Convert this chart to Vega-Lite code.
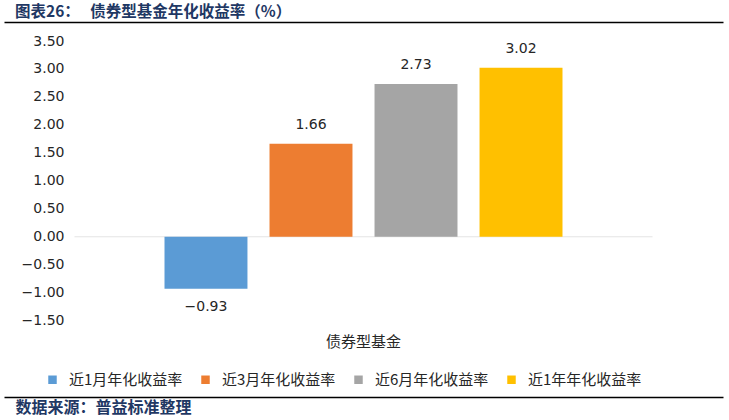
{
  "$schema": "https://vega.github.io/schema/vega-lite/v6.json",
  "width": 719,
  "height": 375,
  "autosize": {"type": "none"},
  "padding": {"left": 4, "top": 22, "right": 6, "bottom": 23},
  "background": "white",
  "config": {
    "view": {"stroke": null},
    "font": "Noto Sans CJK SC",
    "axis": {"labelOverlap": false},
    "axisY": {"labelOverlap": false},
    "axisQuantitative": {"labelOverlap": false}
  },
  "title": {
    "text": "图表26：\u00a0\u00a0\u00a0债券型基金年化收益率（%）",
    "anchor": "start",
    "frame": "group",
    "dx": 11,
    "dy": 2,
    "offset": 4,
    "fontSize": 15.5,
    "fontWeight": "bold",
    "color": "#1F3864",
    "font": "Noto Sans CJK SC"
  },
  "data": {
    "values": [
      {"category": "债券型基金", "series": "近1月年化收益率", "value": -0.93},
      {"category": "债券型基金", "series": "近3月年化收益率", "value": 1.66},
      {"category": "债券型基金", "series": "近6月年化收益率", "value": 2.73},
      {"category": "债券型基金", "series": "近1年年化收益率", "value": 3.02}
    ]
  },
  "resolve": {"axis": {"x": "independent"}},
  "layer": [
    {
      "data": {"values": [{"category": "债券型基金"}]},
      "mark": {"type": "tick", "size": 578, "thickness": 1, "color": "#D9D9D9"},
      "encoding": {
        "x": {
          "field": "category",
          "type": "nominal",
          "scale": {"paddingInner": 0, "paddingOuter": 0.4033},
          "axis": {"orient": "top", "labels": false, "ticks": false, "domain": true, "domainColor": "#000000", "domainWidth": 1.5, "title": null}
        },
        "y": {
          "datum": 0,
          "type": "quantitative",
          "scale": {"domain": [-2.868, 3.84], "nice": false, "zero": false},
          "axis": {
            "values": [-1.5, -1, -0.5, 0, 0.5, 1, 1.5, 2, 2.5, 3, 3.5],
            "format": ".2f",
            "orient": "left",
            "offset": -62,
            "domain": false,
            "ticks": false,
            "grid": false,
            "labelOverlap": false,
            "labelPadding": 2,
            "labelFont": "DejaVu Sans",
            "labelFontSize": 14,
            "labelColor": "#262626",
            "title": null
          }
        }
      }
    },
    {
      "mark": {"type": "bar"},
      "encoding": {
        "x": {
          "field": "category",
          "type": "nominal",
          "axis": {
            "orient": "bottom",
            "domain": true,
            "domainColor": "#000000",
            "domainWidth": 1.5,
            "ticks": false,
            "labelAngle": 0,
            "labelPadding": -56,
            "labelBaseline": "middle",
            "labelFontSize": 15,
            "labelColor": "#262626",
            "labelFont": "Noto Sans CJK SC",
            "title": "数据来源：普益标准整理",
            "titleX": 11,
            "titleY": 10,
            "titleAlign": "left",
            "titleBaseline": "middle",
            "titleFontSize": 16,
            "titleFontWeight": "bold",
            "titleColor": "#1F3864",
            "titleFont": "Noto Sans CJK SC"
          }
        },
        "xOffset": {
          "field": "series",
          "type": "nominal",
          "scale": {"domain": ["近1月年化收益率", "近3月年化收益率", "近6月年化收益率", "近1年年化收益率"], "paddingInner": 0.21, "paddingOuter": 0}
        },
        "y": {
          "field": "value",
          "type": "quantitative",
          "axis": {
            "values": [-1.5, -1, -0.5, 0, 0.5, 1, 1.5, 2, 2.5, 3, 3.5],
            "format": ".2f",
            "orient": "left",
            "offset": -62,
            "domain": false,
            "ticks": false,
            "grid": false,
            "labelOverlap": false,
            "labelPadding": 2,
            "labelFont": "DejaVu Sans",
            "labelFontSize": 14,
            "labelColor": "#262626",
            "title": null
          }
        },
        "color": {
          "field": "series",
          "type": "nominal",
          "scale": {
            "domain": ["近1月年化收益率", "近3月年化收益率", "近6月年化收益率", "近1年年化收益率"],
            "range": ["#5B9BD5", "#ED7D31", "#A5A5A5", "#FFC000"]
          },
          "legend": {
            "orient": "none",
            "direction": "horizontal",
            "legendX": 41,
            "legendY": 350,
            "title": null,
            "symbolType": "square",
            "symbolSize": 72,
            "symbolStrokeWidth": 0,
            "labelFontSize": 15,
            "labelFont": "Noto Sans CJK SC",
            "labelColor": "#262626",
            "labelOffset": 9,
            "columnPadding": 15,
            "padding": 0
          }
        }
      }
    },
    {
      "transform": [{"filter": "datum.value >= 0"}],
      "mark": {"type": "text", "baseline": "bottom", "dy": -12, "font": "DejaVu Sans", "fontSize": 14, "color": "#262626"},
      "encoding": {
        "x": {"field": "category", "type": "nominal", "axis": null},
        "xOffset": {"field": "series", "type": "nominal"},
        "y": {
          "field": "value",
          "type": "quantitative",
          "axis": {
            "values": [-1.5, -1, -0.5, 0, 0.5, 1, 1.5, 2, 2.5, 3, 3.5],
            "format": ".2f",
            "orient": "left",
            "offset": -62,
            "domain": false,
            "ticks": false,
            "grid": false,
            "labelOverlap": false,
            "labelPadding": 2,
            "labelFont": "DejaVu Sans",
            "labelFontSize": 14,
            "labelColor": "#262626",
            "title": null
          }
        },
        "text": {"field": "value", "type": "quantitative", "format": ".2f"}
      }
    },
    {
      "transform": [{"filter": "datum.value < 0"}],
      "mark": {"type": "text", "baseline": "top", "dy": 11, "font": "DejaVu Sans", "fontSize": 14, "color": "#262626"},
      "encoding": {
        "x": {"field": "category", "type": "nominal", "axis": null},
        "xOffset": {"field": "series", "type": "nominal"},
        "y": {
          "field": "value",
          "type": "quantitative",
          "axis": {
            "values": [-1.5, -1, -0.5, 0, 0.5, 1, 1.5, 2, 2.5, 3, 3.5],
            "format": ".2f",
            "orient": "left",
            "offset": -62,
            "domain": false,
            "ticks": false,
            "grid": false,
            "labelOverlap": false,
            "labelPadding": 2,
            "labelFont": "DejaVu Sans",
            "labelFontSize": 14,
            "labelColor": "#262626",
            "title": null
          }
        },
        "text": {"field": "value", "type": "quantitative", "format": ".2f"}
      }
    }
  ]
}
